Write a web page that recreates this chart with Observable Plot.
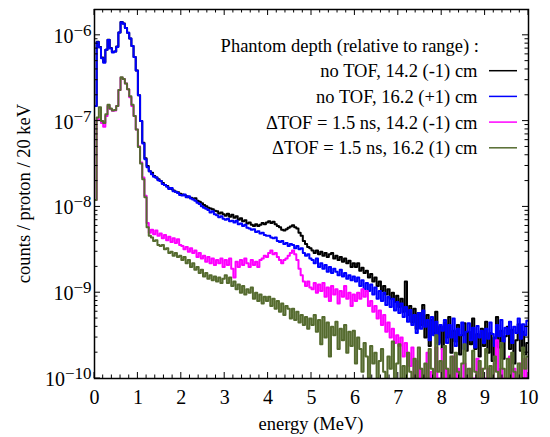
<!DOCTYPE html>
<html><head><meta charset="utf-8">
<script src="https://cdn.jsdelivr.net/npm/d3@7"></script>
<script src="https://cdn.jsdelivr.net/npm/@observablehq/plot@0.6"></script>
<style>
html,body{margin:0;padding:0;background:#fff;}
#chart{width:550px;height:437px;}
#chart svg text, #chart svg tspan{font-family:"Liberation Serif","DejaVu Serif",serif !important;}
</style></head><body><div id="chart"></div>
<script>
// ---- data (20 keV histograms re-read at 0.05 MeV bins, bin start = index * binWidth) ----
const binWidth = 0.05; // MeV
const seriesNames = ["no TOF, 14.2 (-1) cm", "no TOF, 16.2 (+1) cm", "\u0394TOF = 1.5 ns, 14.2 (-1) cm", "\u0394TOF = 1.5 ns, 16.2 (1) cm"];
const seriesColors = ["#000000", "#0000ff", "#ff00ff", "#556b2f"];
const legendTitle = "Phantom depth (relative to range) :";
const xLabel = "energy (MeV)";
const yLabel = "counts / proton / 20 keV";
const xTicks = [0, 1, 2, 3, 4, 5, 6, 7, 8, 9, 10];
const yTicks = [1e-10, 1e-9, 1e-8, 1e-7, 1e-6];
const yTickExponents = ["\u221210", "\u22129", "\u22128", "\u22127", "\u22126"];

const noTof142 = [
1.5e-7,8.4e-7,7.3e-7,5.5e-7,4.9e-7,6.8e-7,8.9e-7,7.1e-7,6.4e-7,6.5e-7,7.4e-7,1.08e-6,1.43e-6,1.37e-6,1.22e-6,1.07e-6,9.2e-7,7.5e-7,5.6e-7,3.9e-7,
2.0e-7,1.0e-7,5.6e-8,3.7e-8,3.0e-8,2.6e-8,2.5e-8,2.3e-8,2.2e-8,2.1e-8,2.0e-8,1.9e-8,1.8e-8,1.75e-8,1.65e-8,1.62e-8,1.55e-8,1.5e-8,1.48e-8,1.42e-8,
1.4e-8,1.38e-8,1.33e-8,1.3e-8,1.28e-8,1.25e-8,1.26e-8,1.18e-8,1.15e-8,1.1e-8,1.05e-8,1.02e-8,9.8e-9,9.6e-9,9.4e-9,9.0e-9,8.9e-9,8.4e-9,8.6e-9,8.2e-9,
7.9e-9,8.3e-9,7.7e-9,8.1e-9,7.5e-9,7.8e-9,7.1e-9,7.4e-9,6.8e-9,7.0e-9,6.4e-9,6.6e-9,6.2e-9,6.0e-9,6.3e-9,6.0e-9,6.2e-9,6.5e-9,6.3e-9,6.6e-9,
6.8e-9,6.5e-9,6.7e-9,6.3e-9,6.0e-9,5.8e-9,5.4e-9,5.3e-9,5.5e-9,5.7e-9,5.9e-9,6.1e-9,5.8e-9,5.6e-9,5.0e-9,4.6e-9,4.0e-9,3.7e-9,3.4e-9,3.3e-9,
3.1e-9,2.9e-9,3.1e-9,2.8e-9,3.0e-9,2.7e-9,2.9e-9,2.6e-9,2.8e-9,2.9e-9,2.5e-9,2.7e-9,2.4e-9,2.6e-9,2.3e-9,2.5e-9,2.2e-9,2.35e-9,2.0e-9,2.2e-9,
2.0e-9,2.2e-9,1.8e-9,1.95e-9,1.7e-9,1.8e-9,1.5e-9,1.65e-9,1.35e-9,1.5e-9,1.2e-9,1.35e-9,1.05e-9,1.2e-9,9.5e-10,1.1e-9,8.5e-10,1.0e-9,7.8e-10,9.2e-10,
6.8e-10,8.5e-10,6.0e-10,1.35e-9,5.5e-10,7.0e-10,4.5e-10,6.5e-10,3.8e-10,5.8e-10,4.2e-10,7.2e-10,3.0e-10,5.5e-10,2.4e-10,4.8e-10,3.4e-10,6.0e-10,2.6e-10,4.0e-10,
2.2e-10,4.5e-10,3.0e-10,5.2e-10,2.0e-10,3.6e-10,2.7e-10,4.2e-10,1.9e-10,3.2e-10,4.4e-10,2.1e-10,3.5e-10,2.5e-10,5.0e-10,2.2e-10,3.3e-10,1.8e-10,3.8e-10,2.4e-10,
4.6e-10,2.0e-10,3.4e-10,1.6e-10,3.0e-10,5.2e-10,2.3e-10,3.6e-10,1.7e-10,3.1e-10,4.0e-10,2.2e-10,3.7e-10,1.5e-10,2.8e-10,4.3e-10,2.1e-10,3.5e-10,1.9e-10,2.6e-10
];
const noTof162 = [
1.5e-7,8.3e-7,7.2e-7,5.4e-7,4.8e-7,6.8e-7,8.8e-7,7.0e-7,6.3e-7,6.5e-7,7.3e-7,1.08e-6,1.42e-6,1.36e-6,1.22e-6,1.07e-6,9.2e-7,7.5e-7,5.6e-7,3.9e-7,
2.0e-7,1.0e-7,5.5e-8,3.6e-8,2.9e-8,2.6e-8,2.4e-8,2.25e-8,2.2e-8,2.05e-8,2.0e-8,1.85e-8,1.8e-8,1.72e-8,1.62e-8,1.66e-8,1.52e-8,1.5e-8,1.45e-8,1.38e-8,
1.36e-8,1.4e-8,1.3e-8,1.33e-8,1.25e-8,1.22e-8,1.18e-8,1.12e-8,1.08e-8,1.02e-8,9.8e-9,9.5e-9,9.2e-9,8.6e-9,8.9e-9,8.2e-9,8.0e-9,7.6e-9,7.8e-9,7.3e-9,
7.1e-9,7.3e-9,6.8e-9,6.9e-9,6.6e-9,6.9e-9,6.3e-9,6.4e-9,6.0e-9,6.2e-9,5.7e-9,5.6e-9,5.4e-9,5.5e-9,5.1e-9,5.2e-9,4.9e-9,5.0e-9,4.7e-9,4.6e-9,
4.6e-9,4.4e-9,4.3e-9,4.4e-9,4.0e-9,3.9e-9,4.0e-9,3.7e-9,3.8e-9,3.5e-9,3.7e-9,3.6e-9,3.3e-9,3.5e-9,3.2e-9,3.3e-9,2.9e-9,2.7e-9,2.8e-9,2.5e-9,
2.4e-9,2.2e-9,2.5e-9,2.0e-9,2.2e-9,1.9e-9,2.1e-9,1.75e-9,2.0e-9,1.7e-9,1.9e-9,1.75e-9,1.6e-9,1.85e-9,1.55e-9,1.7e-9,1.45e-9,1.6e-9,1.4e-9,1.55e-9,
1.35e-9,1.5e-9,1.2e-9,1.4e-9,1.1e-9,1.3e-9,1.05e-9,1.25e-9,9.5e-10,1.15e-9,8.5e-10,1.05e-9,8.0e-10,1.0e-9,7.2e-10,9.0e-10,6.8e-10,8.5e-10,6.2e-10,7.8e-10,
5.8e-10,7.5e-10,5.2e-10,6.8e-10,4.6e-10,6.3e-10,4.2e-10,5.5e-10,3.4e-10,5.8e-10,3.8e-10,6.2e-10,4.0e-10,4.8e-10,2.8e-10,5.2e-10,3.2e-10,4.6e-10,2.5e-10,4.2e-10,
3.6e-10,4.8e-10,2.6e-10,4.2e-10,3.0e-10,5.0e-10,2.4e-10,3.8e-10,3.2e-10,4.5e-10,2.2e-10,3.5e-10,4.4e-10,2.8e-10,3.9e-10,2.3e-10,4.1e-10,3.0e-10,3.6e-10,2.6e-10,
3.8e-10,2.9e-10,4.5e-10,3.3e-10,2.4e-10,4.2e-10,3.1e-10,4.8e-10,2.7e-10,3.9e-10,3.3e-10,4.6e-10,2.6e-10,4.0e-10,3.4e-10,5.0e-10,2.9e-10,4.3e-10,3.2e-10,4.7e-10
];
const tof142 = [
1.2e-8,1.05e-7,1.05e-7,9.5e-8,8.6e-8,1.15e-7,1.5e-7,1.38e-7,1.32e-7,1.33e-7,1.5e-7,2.3e-7,3.2e-7,3.1e-7,2.75e-7,2.35e-7,1.9e-7,1.5e-7,1.15e-7,8.0e-8,
5.1e-8,3.3e-8,2.2e-8,1.35e-8,6.5e-9,5.0e-9,5.4e-9,4.8e-9,5.3e-9,4.6e-9,4.9e-9,4.3e-9,4.7e-9,4.1e-9,4.5e-9,3.9e-9,4.3e-9,3.8e-9,4.2e-9,3.6e-9,
3.5e-9,3.2e-9,3.4e-9,3.0e-9,3.3e-9,2.9e-9,3.1e-9,2.6e-9,2.9e-9,2.5e-9,2.7e-9,2.3e-9,2.6e-9,2.2e-9,2.5e-9,2.1e-9,2.4e-9,2.2e-9,2.5e-9,2.0e-9,
2.4e-9,2.1e-9,2.5e-9,1.9e-9,1.5e-9,2.3e-9,2.0e-9,2.4e-9,2.1e-9,2.5e-9,2.2e-9,2.0e-9,2.4e-9,2.1e-9,2.3e-9,2.0e-9,2.4e-9,2.5e-9,2.7e-9,2.6e-9,
2.9e-9,3.1e-9,2.8e-9,2.9e-9,2.6e-9,2.4e-9,2.2e-9,2.4e-9,2.5e-9,2.7e-9,2.9e-9,3.1e-9,2.8e-9,2.4e-9,1.9e-9,1.6e-9,1.35e-9,1.2e-9,1.35e-9,1.15e-9,
1.1e-9,1.3e-9,1.0e-9,1.25e-9,1.05e-9,1.3e-9,9.0e-10,1.15e-9,8.0e-10,1.2e-9,9.5e-10,1.1e-9,7.5e-10,1.05e-9,9.0e-10,1.2e-9,8.5e-10,1.0e-9,7.0e-10,9.5e-10,
8.0e-10,1.0e-9,8.5e-10,1.1e-9,9.0e-10,1.05e-9,7.0e-10,8.0e-10,6.0e-10,7.0e-10,5.0e-10,6.2e-10,4.2e-10,5.5e-10,3.5e-10,4.5e-10,3.0e-10,3.8e-10,2.6e-10,3.2e-10,
2.4e-10,3.0e-10,1.8e-10,2.6e-10,2.0e-10,1.4e-10,2.3e-10,1.0e-10,1.6e-10,1.0e-10,1.3e-10,1.0e-10,1.0e-10,2.0e-10,1.0e-10,1.2e-10,1.0e-10,2.3e-10,1.0e-10,1.0e-10,
2.2e-10,1.0e-10,1.3e-10,1.0e-10,1.0e-10,1.8e-10,1.0e-10,1.3e-10,1.0e-10,1.0e-10,1.5e-10,1.0e-10,1.0e-10,1.3e-10,1.0e-10,1.0e-10,1.7e-10,1.0e-10,1.3e-10,1.0e-10,
1.0e-10,1.3e-10,1.0e-10,1.0e-10,1.5e-10,2.8e-10,1.0e-10,1.3e-10,1.0e-10,1.0e-10,1.0e-10,1.8e-10,1.0e-10,1.3e-10,1.0e-10,1.0e-10,1.5e-10,1.0e-10,1.7e-10,1.0e-10
];
const tof162 = [
1.2e-8,1.1e-7,1.45e-7,1.0e-7,9.5e-8,1.2e-7,1.55e-7,1.4e-7,1.33e-7,1.35e-7,1.5e-7,2.3e-7,3.25e-7,3.1e-7,2.75e-7,2.35e-7,1.95e-7,1.55e-7,1.15e-7,8.0e-8,
5.0e-8,3.2e-8,2.1e-8,1.3e-8,5.8e-9,4.6e-9,4.4e-9,4.0e-9,4.1e-9,3.6e-9,3.5e-9,3.6e-9,3.2e-9,3.3e-9,2.9e-9,3.0e-9,2.7e-9,2.9e-9,2.6e-9,2.7e-9,
2.4e-9,2.6e-9,2.2e-9,2.4e-9,2.0e-9,2.2e-9,1.85e-9,2.0e-9,1.7e-9,1.85e-9,1.55e-9,1.7e-9,1.45e-9,1.6e-9,1.4e-9,1.55e-9,1.35e-9,1.5e-9,1.3e-9,1.45e-9,
1.6e-9,1.3e-9,1.5e-9,1.2e-9,1.35e-9,1.1e-9,1.25e-9,1.0e-9,1.2e-9,9.5e-10,1.1e-9,1.0e-9,1.15e-9,8.5e-10,1.0e-9,8.0e-10,9.5e-10,7.5e-10,9.0e-10,8.0e-10,
9.0e-10,7.0e-10,8.5e-10,6.5e-10,8.0e-10,6.0e-10,7.5e-10,5.5e-10,7.0e-10,6.5e-10,5.0e-10,6.5e-10,4.8e-10,6.0e-10,4.5e-10,5.5e-10,4.2e-10,5.2e-10,3.8e-10,5.0e-10,
4.2e-10,5.5e-10,3.5e-10,4.8e-10,2.5e-10,5.2e-10,3.0e-10,4.5e-10,1.8e-10,4.0e-10,3.2e-10,4.6e-10,2.2e-10,3.8e-10,2.8e-10,4.2e-10,2.0e-10,3.5e-10,2.4e-10,3.6e-10,
1.5e-10,3.0e-10,2.2e-10,1.2e-10,2.6e-10,1.8e-10,1.0e-10,2.4e-10,1.5e-10,2.0e-10,1.0e-10,1.6e-10,2.2e-10,1.2e-10,1.0e-10,1.8e-10,1.3e-10,2.7e-10,1.0e-10,1.5e-10,
2.5e-10,1.0e-10,1.4e-10,1.0e-10,2.0e-10,1.2e-10,1.0e-10,1.7e-10,1.0e-10,2.3e-10,1.3e-10,1.0e-10,1.5e-10,1.0e-10,2.2e-10,1.3e-10,1.0e-10,3.2e-10,1.2e-10,1.6e-10,
1.0e-10,2.4e-10,1.3e-10,1.0e-10,1.8e-10,1.0e-10,2.0e-10,1.2e-10,1.0e-10,1.5e-10,2.5e-10,1.0e-10,1.3e-10,1.0e-10,2.1e-10,1.2e-10,1.0e-10,1.6e-10,1.0e-10,1.3e-10,
2.2e-10,1.0e-10,1.4e-10,1.0e-10,1.8e-10,1.2e-10,1.0e-10,2.6e-10,1.3e-10,1.0e-10,1.7e-10,1.0e-10,2.0e-10,1.2e-10,1.0e-10,1.5e-10,1.0e-10,2.3e-10,1.3e-10,1.8e-10
];

// ---- build table ----
const allSeries = [noTof142, noTof162, tof142, tof162];
const rows = [];
allSeries.forEach((vals, s) => {
  vals.forEach((v, i) => rows.push({series: seriesNames[s], E: i * binWidth, v}));
  rows.push({series: seriesNames[s], E: vals.length * binWidth, v: vals[vals.length - 1]});
});

const FONT = "Liberation Serif, DejaVu Serif, serif";
const TICK_FS = 20, TEXT_FS = 18.5;

const plot = Plot.plot({
  width: 550, height: 437,
  marginLeft: 94, marginRight: 22, marginTop: 9, marginBottom: 59,
  style: {fontFamily: FONT, fontSize: TEXT_FS + "px", color: "black", background: "white", overflow: "visible"},
  x: {domain: [0, 10]},
  y: {type: "log", domain: [1e-10, 2e-6], axis: null},
  color: {domain: seriesNames, range: seriesColors},
  marks: [
    Plot.line(rows, {x: "E", y: "v", z: "series", stroke: "series", curve: "step-after", strokeWidth: 2, clip: true}),
    Plot.axisX(xTicks, {anchor: "bottom", tickSize: 0, tickPadding: 11, fontSize: TICK_FS, label: null, tickFormat: d => String(d)}),
    Plot.frame({stroke: "black", strokeWidth: 1.5})
  ]
});
document.getElementById("chart").appendChild(plot);

// ---- ticks, labels, legend (positions from Plot's scales) ----
const svg = d3.select(plot);
const xs = plot.scale("x"), ys = plot.scale("y");
const xL = xs.apply(xs.domain[0]), xR = xs.apply(xs.domain[1]);
const yB = ys.apply(ys.domain[0]), yT = ys.apply(ys.domain[1]);
const tg = svg.append("g").attr("stroke", "black").attr("stroke-width", 1);
const seg = (x1, y1, x2, y2) => tg.append("line").attr("x1", x1).attr("y1", y1).attr("x2", x2).attr("y2", y2);
const MAJ = 6, MIN = 3.5;
xTicks.forEach((t, k) => {
  const px = xs.apply(t);
  seg(px, yB, px, yB - MAJ); seg(px, yT, px, yT + MAJ);
  if (k < xTicks.length - 1) {
    for (let j = 1; j < 5; j++) {
      const qx = xs.apply(t + j * (xTicks[k + 1] - t) / 5);
      seg(qx, yB, qx, yB - MIN); seg(qx, yT, qx, yT + MIN);
    }
  }
});
yTicks.forEach((t) => {
  const py = ys.apply(t);
  seg(xL, py, xL + MAJ, py); seg(xR, py, xR - MAJ, py);
  for (let m = 2; m <= 9; m++) {
    const v = m * t;
    if (v >= ys.domain[1]) break;
    const qy = ys.apply(v);
    seg(xL, qy, xL + MIN, qy); seg(xR, qy, xR - MIN, qy);
  }
});
// y tick labels with superscripts
const lg = svg.append("g").attr("font-family", FONT).attr("font-size", TEXT_FS).attr("fill", "black");
yTicks.forEach((t, k) => {
  const txt = lg.append("text").attr("x", xL - 2.5).attr("y", ys.apply(t) + 8).attr("text-anchor", "end").attr("font-size", TICK_FS);
  txt.append("tspan").text("10");
  txt.append("tspan").attr("font-size", 17).attr("dy", -7).text(yTickExponents[k]);
});
// axis titles
lg.append("text").attr("x", (xL + xR) / 2).attr("y", 429.5).attr("text-anchor", "middle").text(xLabel);
lg.append("text").attr("transform", `translate(30,${(yT + yB) / 2}) rotate(-90)`).attr("text-anchor", "middle").text(yLabel);
// legend
const legX = 477.5, legY0 = 51.5, legDY = 25.7;
lg.append("text").attr("x", legX + 1.5).attr("y", legY0).attr("text-anchor", "end").text(legendTitle);
seriesNames.forEach((name, i) => {
  const by = legY0 + (i + 1) * legDY;
  lg.append("text").attr("x", legX).attr("y", by).attr("text-anchor", "end").text(name);
  svg.append("line").attr("x1", legX + 11.5).attr("x2", legX + 39.5).attr("y1", by - 6.5).attr("y2", by - 6.5)
    .attr("stroke", seriesColors[i]).attr("stroke-width", 1.5);
});
</script></body></html>
